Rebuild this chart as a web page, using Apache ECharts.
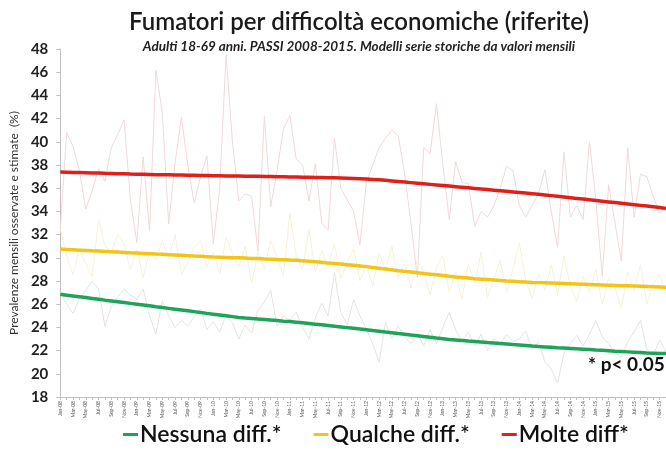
<!DOCTYPE html>
<html>
<head>
<meta charset="utf-8">
<title>Fumatori per difficoltà economiche</title>
<script src="https://cdn.jsdelivr.net/npm/echarts/dist/echarts.min.js"></script>
<style>
    html, body {
        margin: 0;
        padding: 0;
        background: #fff;
    }

    #fumatoriChart {
        width: 666px;
        height: 454px;
    }
</style>
</head>
<body>
<div id="fumatoriChart"></div>

<script>
// mesi e anni per le etichette dell'asse x
var months = ['Jan', 'Feb', 'Mar', 'Apr', 'May', 'Jun', 'Jul', 'Aug', 'Sep', 'Oct', 'Nov', 'Dec'];
var years = ['08', '09', '10', '11', '12', '13', '14', '15'];

// tick asse y
var yTicks = [18, 20, 22, 24, 26, 28, 30, 32, 34, 36, 38, 40, 42, 44, 46, 48];

// valori mensili osservati (una riga = un anno)
var nessunaOss = [
    27.1, 26.0, 25.2, 26.5, 27.2, 28.0, 27.3, 24.1, 25.8, 26.6, 27.3, 26.8,
    26.4, 27.3, 25.0, 23.4, 26.3, 25.0, 24.0, 24.6, 24.1, 24.9, 25.6, 23.8,
    24.5, 23.6, 25.0, 24.4, 23.0, 24.2, 23.5, 25.5, 26.2, 27.2, 24.1, 25.0,
    24.6, 25.3, 24.0, 23.0, 24.8, 26.1, 25.0, 28.7, 25.3, 24.2, 26.4, 25.0,
    23.8, 22.6, 21.0, 24.4, 23.0, 24.1, 23.2, 22.6, 23.5, 22.4, 23.8, 22.6,
    24.0, 25.3, 23.8, 22.8, 23.6, 22.4, 23.4, 22.0, 23.0, 22.6, 23.4, 22.8,
    23.0, 23.7, 22.1, 22.8, 21.0, 20.4, 19.2, 21.8, 22.6, 23.3, 22.4, 23.4,
    24.6, 23.2, 22.6, 21.8, 21.4, 22.8, 23.6, 24.6, 22.1, 21.6, 22.9, 21.9
];
var qualcheOss = [
    32.5, 30.2, 28.5, 30.8, 29.5, 28.4, 33.3, 31.0, 30.5, 32.0, 31.2, 29.0,
    30.8, 28.3, 30.5, 29.8, 31.5, 30.0, 32.0, 28.5, 29.6, 31.0, 31.5, 29.2,
    30.5, 28.6, 31.8, 30.4, 29.2, 31.0, 27.8, 30.5, 29.0, 31.5, 30.0, 28.4,
    33.8, 30.2, 29.0, 32.5, 28.8, 30.6, 29.2, 31.2, 28.2, 29.6, 30.8, 28.0,
    29.4, 27.6, 30.4, 29.0, 31.0, 28.2, 29.5, 27.4, 29.8, 28.8, 26.8, 29.2,
    30.2, 27.0, 28.8, 26.4, 29.5, 27.8, 30.5, 26.6, 28.2, 29.8, 27.0, 29.0,
    31.3, 28.0, 26.5, 28.6, 27.2, 29.4, 26.8, 30.2, 27.5, 26.2, 28.4, 27.0,
    29.0, 26.0, 28.2, 27.4, 25.6, 28.8, 27.2, 29.4, 26.0, 27.8, 28.6, 26.8
];
var molteOss = [
    32.5, 40.8, 39.6, 37.5, 34.2, 35.8, 37.7, 36.6, 39.5, 40.6, 41.9, 35.0,
    31.3, 38.7, 32.3, 46.2, 42.5, 32.9, 38.2, 42.1, 38.0, 34.7, 37.0, 38.8,
    31.2, 36.0, 47.5, 40.0, 34.9, 35.5, 35.3, 30.6, 42.2, 34.4, 37.5, 41.1,
    42.3, 38.5, 38.0, 34.9, 38.1, 33.0, 32.4, 40.3, 36.0, 35.0, 34.0, 31.1,
    36.5, 38.0, 39.5, 40.3, 41.0, 40.5, 37.3, 33.0, 28.3, 39.5, 39.0, 43.3,
    38.0, 33.3, 38.3, 36.5, 36.4, 32.7, 34.0, 33.5, 34.5, 36.0, 37.9, 37.5,
    34.5, 33.5, 34.5, 35.5, 37.6, 34.0, 30.9, 39.1, 33.5, 34.5, 33.3, 40.0,
    35.0, 28.4, 36.3, 33.0, 29.7, 39.5, 33.5, 37.2, 37.0, 35.3, 33.8, 34.5
];

// valori stimati dal modello
var nessunaMod = [
    26.85, 26.78, 26.71, 26.64, 26.57, 26.50, 26.43, 26.35, 26.28, 26.21, 26.14, 26.07,
    26.00, 25.93, 25.86, 25.78, 25.71, 25.64, 25.57, 25.50, 25.43, 25.36, 25.28, 25.21,
    25.14, 25.07, 25.00, 24.93, 24.86, 24.81, 24.77, 24.72, 24.68, 24.63, 24.59, 24.54,
    24.50, 24.45, 24.40, 24.34, 24.28, 24.22, 24.16, 24.10, 24.04, 23.98, 23.92, 23.86,
    23.80, 23.73, 23.67, 23.60, 23.54, 23.47, 23.41, 23.34, 23.28, 23.21, 23.15, 23.08,
    23.02, 22.95, 22.91, 22.87, 22.82, 22.78, 22.74, 22.69, 22.65, 22.61, 22.57, 22.52,
    22.48, 22.44, 22.39, 22.35, 22.32, 22.29, 22.25, 22.22, 22.19, 22.15, 22.12, 22.09,
    22.05, 22.02, 21.99, 21.95, 21.92, 21.89, 21.86, 21.83, 21.80, 21.78, 21.76, 21.74
];
var qualcheMod = [
    30.75, 30.72, 30.69, 30.66, 30.63, 30.60, 30.58, 30.55, 30.52, 30.49, 30.46, 30.43,
    30.41, 30.38, 30.35, 30.32, 30.30, 30.27, 30.24, 30.21, 30.18, 30.15, 30.13, 30.10,
    30.07, 30.05, 30.03, 30.01, 30.00, 29.98, 29.95, 29.93, 29.90, 29.88, 29.85, 29.83,
    29.80, 29.78, 29.75, 29.71, 29.66, 29.61, 29.56, 29.51, 29.46, 29.41, 29.36, 29.30,
    29.24, 29.17, 29.10, 29.03, 28.96, 28.89, 28.83, 28.77, 28.71, 28.65, 28.59, 28.53,
    28.47, 28.41, 28.35, 28.30, 28.25, 28.20, 28.16, 28.12, 28.08, 28.04, 28.00, 27.97,
    27.94, 27.91, 27.88, 27.86, 27.84, 27.82, 27.80, 27.78, 27.76, 27.74, 27.72, 27.70,
    27.68, 27.66, 27.64, 27.62, 27.60, 27.58, 27.56, 27.54, 27.52, 27.50, 27.48, 27.46
];
var molteMod = [
    37.40, 37.38, 37.36, 37.35, 37.33, 37.31, 37.30, 37.28, 37.27, 37.25, 37.24, 37.22,
    37.21, 37.20, 37.19, 37.17, 37.16, 37.15, 37.14, 37.13, 37.12, 37.11, 37.10, 37.09,
    37.08, 37.07, 37.06, 37.05, 37.05, 37.04, 37.03, 37.02, 37.01, 37.00, 36.99, 36.98,
    36.97, 36.96, 36.95, 36.94, 36.93, 36.92, 36.91, 36.90, 36.88, 36.86, 36.84, 36.82,
    36.80, 36.76, 36.72, 36.68, 36.63, 36.58, 36.53, 36.48, 36.43, 36.38, 36.33, 36.28,
    36.23, 36.18, 36.13, 36.08, 36.03, 35.98, 35.93, 35.88, 35.83, 35.78, 35.73, 35.68,
    35.63, 35.58, 35.53, 35.48, 35.42, 35.36, 35.30, 35.24, 35.18, 35.12, 35.06, 35.00,
    34.94, 34.88, 34.82, 34.76, 34.70, 34.64, 34.58, 34.52, 34.46, 34.40, 34.34, 34.24
];

var categories = [];
years.forEach(function (y) {
    months.forEach(function (m) {
        categories.push(m + '-' + y);
    });
});

var font = 'Lato, "Open Sans", sans-serif';

// linee osservate (sottili, chiare)
function obsLine(name, data, color) {
    return {
        name: name,
        type: 'line',
        data: data,
        symbol: 'none',
        z: 1,
        silent: true,
        lineStyle: { width: 1, color: color }
    };
}

// linee del modello (spesse)
function modLine(name, data, color) {
    return {
        name: name,
        type: 'line',
        data: data,
        symbol: 'none',
        z: 3,
        lineStyle: { width: 3.5, color: color },
        itemStyle: { color: color }
    };
}

var myChart = echarts.init(document.getElementById('fumatoriChart'));

var options = {
    animation: false,
    textStyle: { fontFamily: font },
    title: {
        text: 'Fumatori per difficoltà economiche (riferite)',
        subtext: 'Adulti 18-69 anni. PASSI 2008-2015. Modelli serie storiche da valori mensili',
        left: 354,
        textAlign: 'center',
        top: 5,
        itemGap: 6,
        textStyle: {
            fontFamily: font,
            fontSize: 24,
            fontWeight: 600,
            color: '#1a1a1a'
        },
        subtextStyle: {
            fontFamily: font,
            fontSize: 13.5,
            fontStyle: 'italic',
            fontWeight: 'bold',
            color: '#222'
        }
    },
    legend: {
        data: ['Nessuna diff.*', 'Qualche diff.*', 'Molte diff*'],
        top: 418,
        left: 118,
        icon: 'rect',
        itemWidth: 15,
        itemHeight: 3,
        itemGap: 32,
        textStyle: {
            fontFamily: font,
            fontSize: 23,
            fontWeight: 600,
            color: '#111',
            padding: [0, 0, 0, -3]
        }
    },
    grid: {
        top: 49,
        bottom: 57,
        left: 57,
        right: -3
    },
    xAxis: {
        type: 'category',
        data: categories,
        boundaryGap: false,
        axisLine: { lineStyle: { color: '#bfbfbf', width: 1 } },
        axisTick: { show: true, interval: 0, length: 3, lineStyle: { color: '#bfbfbf' } },
        axisLabel: {
            interval: 1,
            rotate: 90,
            fontSize: 5,
            color: '#555',
            margin: 4,
            fontFamily: font
        }
    },
    yAxis: {
        type: 'value',
        min: yTicks[0],
        max: yTicks[yTicks.length - 1],
        interval: 2,
        name: 'Prevalenze mensili osservate e stimate  (%)',
        nameLocation: 'middle',
        nameGap: 36,
        nameTextStyle: { fontFamily: font, fontSize: 12, color: '#333' },
        splitLine: { show: false },
        axisLine: { show: true, lineStyle: { color: '#bfbfbf', width: 1 } },
        axisTick: { show: true, length: 4, lineStyle: { color: '#bfbfbf' } },
        axisLabel: {
            fontFamily: font,
            fontSize: 15,
            fontWeight: 'bold',
            color: '#222',
            margin: 12
        }
    },
    graphic: [
        {
            type: 'text',
            left: 588,
            top: 355,
            style: {
                text: '* p< 0.05',
                font: 'bold 19px Lato, sans-serif',
                fill: '#111'
            }
        }
    ],
    series: [
        obsLine('oss-molte', molteOss, '#f0d9d9'),
        obsLine('oss-qualche', qualcheOss, '#f7f1d9'),
        obsLine('oss-nessuna', nessunaOss, '#dfe6df'),
        modLine('Nessuna diff.*', nessunaMod, '#1fa35a'),
        modLine('Qualche diff.*', qualcheMod, '#f2c418'),
        modLine('Molte diff*', molteMod, '#e01f1b')
    ]
};

myChart.setOption(options);
</script>
</body>
</html>
